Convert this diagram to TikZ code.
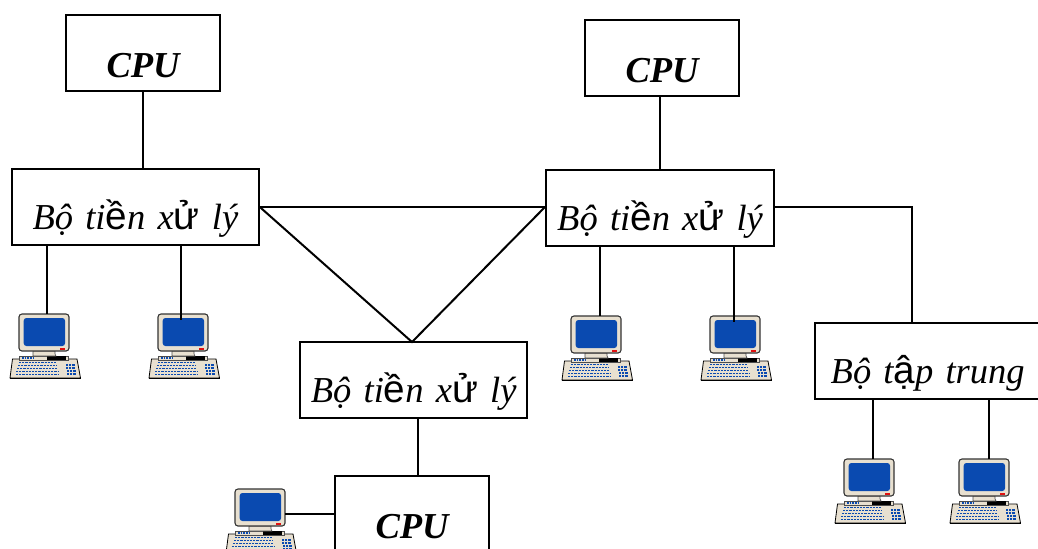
\documentclass[tikz,border=0pt]{standalone}
\usepackage{fontspec}
\setmainfont[WordSpace=0.75]{Liberation Serif}
\newfontfamily\arialf{Liberation Sans}
\newcommand{\up}[1]{{\fontsize{29}{27.4}\arialf\upshape\mdseries #1}}
\definecolor{pcbody}{HTML}{E8E0D0}
\definecolor{pcblue}{HTML}{0A4AB0}
\definecolor{pcred}{HTML}{E01010}
\newcommand{\TXL}{Bộ ti\up{ề}n x\up{ử} lý}
\tikzset{
  x=0.75pt,y=-0.75pt,
  wire/.style={line width=1.5pt,black},
  boxbase/.style={draw=black,line width=1.6pt,fill=white,inner xsep=0pt,inner ysep=0pt,anchor=north west,align=center,font=\fontsize{27.4}{27.4}\selectfont\itshape},
  cpubox/.style={boxbase,minimum width=115.5pt,text width=115.5pt,text height=46.5pt,text depth=10.5pt,font=\fontsize{27.4}{27.4}\selectfont\bfseries\itshape},
  procbox/.style={boxbase,text height=45pt,text depth=12pt},
  pc/.pic={
    \coordinate (-top) at (34,1);
    \coordinate (-right) at (59,26);
    % keyboard
    \path[draw=black,line width=0.6pt,fill=pcbody] (2.5,46) -- (67,46) -- (70.5,65) -- (0,65) -- cycle;
    \draw[black,line width=1pt] (0,65.5) -- (70.5,65.5);
    \foreach \r/\a/\b in {49.5/9/46,52.5/8/47,55.5/7/47,58.5/6/48,61.5/6/48}{
      \draw[pcblue,line width=1.1pt,dash pattern=on 1.7pt off 0.7pt] (\a,\r) -- (\b,\r);
    }
    \foreach \r/\a/\b in {52/56/65,55/56/65,58/57/66,61/57/66}{
      \draw[pcblue,line width=1.1pt,dash pattern=on 1.5pt off 0.6pt] (\a,\r) -- (\b,\r);
    }
    % base strip
    \path[draw=black!70,line width=0.5pt,fill=pcbody] (9,43) rectangle (58.5,47);
    \fill[black] (37,43.2) rectangle (56,46.8);
    \draw[pcblue,line width=1.5pt,dash pattern=on 1.2pt off 0.8pt] (12,45) -- (25,45);
    % neck
    \path[draw=black!70,line width=0.5pt,fill=pcbody] (23,38) -- (45,38) -- (45,41) -- (46,43) -- (23,43) -- cycle;
    % monitor
    \path[draw=black!80,line width=0.8pt,fill=pcbody,rounded corners=2.2pt] (9,1) rectangle (59,38);
    \path[fill=pcblue,rounded corners=2pt] (13.7,5) rectangle (55,33);
    \fill[pcred] (50,35) rectangle (55,37);
  }
}
\begin{document}
\begin{tikzpicture}
\useasboundingbox (0,0) rectangle (1038,549);
\clip (0,0) rectangle (1038,549);
% computers
\pic (p1) at (10,313) {pc};
\pic (p2) at (149,313) {pc};
\pic (p3) at (562,315) {pc};
\pic (p4) at (701,315) {pc};
\pic (p5) at (835,458) {pc};
\pic (p6) at (950,458) {pc};
\pic (p7) at (226,488) {pc};
% boxes
\node[cpubox] (c1) at (65,14) {CPU};
\node[cpubox] (c2) at (584,19) {CPU};
\node[cpubox] (c3) at (334,475) {CPU};
\node[procbox,minimum width=185pt,text width=185pt] (t1) at (11,168) {\TXL};
\node[procbox,minimum width=171pt,text width=171pt] (t2) at (545,169) {\TXL};
\node[procbox,minimum width=170.5pt,text width=170.5pt] (t3) at (299,341) {\TXL};
\node[procbox,minimum width=169pt,text width=169pt] (hub) at (814,322) {Bộ t\up{ậ}p trung};
\coordinate (apex) at (412,342);
\coordinate (elbow) at (912,207);
% connectors
\draw[wire] (c1.south -| 143,0) -- (t1.north -| 143,0);
\draw[wire] (c2.south -| 660,0) -- (t2.north -| 660,0);
\draw[wire] (t3.south -| 418,0) -- (c3.north -| 418,0);
\draw[wire] (t1.east |- 0,207) -- (t2.west |- 0,207);
\draw[wire] (t1.east |- 0,207) -- (apex) -- (t2.west |- 0,207);
\draw[wire] (t2.east |- elbow) -- (elbow) -- (hub.north -| elbow);
\draw[wire] (t1.south -| 47,0) -- (47,314);
\draw[wire] (t1.south -| 181,0) -- (181,320);
\draw[wire] (t2.south -| 600,0) -- (600,316);
\draw[wire] (t2.south -| 734,0) -- (734,322);
\draw[wire] (hub.south -| 873,0) -- (873,459);
\draw[wire] (hub.south -| 989,0) -- (989,459);
\draw[wire] (p7-right) -- (c3.west |- p7-right);
\end{tikzpicture}
\end{document}
